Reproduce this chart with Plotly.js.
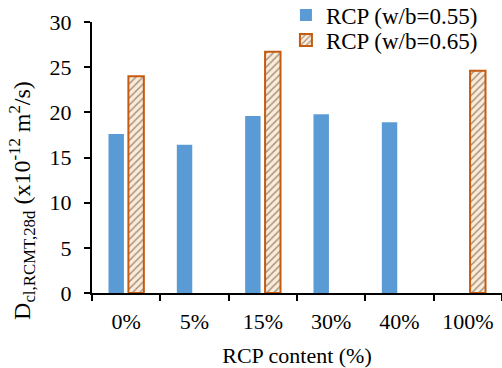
<!DOCTYPE html>
<html>
<head>
<meta charset="utf-8">
<script src="https://cdn.plot.ly/plotly-3.0.1.min.js"></script>
<style>html,body{margin:0;padding:0;background:#fff;}</style>
</head>
<body>
<div id="chart" style="width:502px;height:368px"></div>
<script>
var categories = ["0%", "5%", "15%", "30%", "40%", "100%"];
var seriesNames = ["RCP (w/b=0.55)", "RCP (w/b=0.65)"];
var valuesWB055 = [17.6, 16.4, 19.6, 19.8, 18.9, null];
var valuesWB065 = [24.0, null, 26.7, null, null, 24.6];
var yTicks = [0, 5, 10, 15, 20, 25, 30];

function mkFont(sz) { return {family: "Liberation Serif", size: sz || 22, color: "#000000"}; }

var traces = [
  {
    type: "bar", name: seriesNames[0], x: categories, y: valuesWB055,
    marker: {color: "#5b9bd5", line: {width: 0}},
    legend: "legend"
  },
  {
    type: "bar", name: seriesNames[1], x: categories, y: valuesWB065,
    marker: {
      color: "#fbe4c8",
      line: {color: "#c55a11", width: 2},
      pattern: {shape: "/", bgcolor: "#fcebd8", fgcolor: "#a89684", size: 5, solidity: 0.3, fillmode: "replace"}
    },
    legend: "legend2"
  }
];

var layout = {
  width: 502, height: 368,
  margin: {l: 92, r: 0, t: 22, b: 75, autoexpand: false},
  paper_bgcolor: "#fff", plot_bgcolor: "#fff",
  font: mkFont(22),
  barmode: "group",
  bargap: 0.417,
  bargroupgap: 0.225,
  showlegend: true,
  legend: {x: 0.473, y: (293 - 15) / 271, xanchor: "left", yanchor: "middle", bgcolor: "rgba(0,0,0,0)", font: mkFont(23)},
  legend2: {x: 0.473, y: (293 - 40) / 271, xanchor: "left", yanchor: "middle", bgcolor: "rgba(0,0,0,0)", font: mkFont(23)},
  xaxis: {
    type: "category",
    showline: true, linecolor: "#000", linewidth: 2,
    ticks: "outside", ticklen: 6, tickwidth: 2, tickcolor: "#000",
    tickson: "boundaries",
    showgrid: false, zeroline: false,
    tickfont: mkFont(22),
    ticklabelstandoff: 8,
    title: {text: "RCP content (%)", font: mkFont(22), standoff: 14}
  },
  yaxis: {
    range: [0, 30], tickvals: yTicks,
    showline: true, linecolor: "#000", linewidth: 2,
    ticks: "outside", ticklen: 6, tickwidth: 2, tickcolor: "#000",
    showgrid: false, zeroline: false,
    tickfont: mkFont(22),
    ticklabelstandoff: 8
  },
  annotations: [{
    text: "D<sub>cl,RCMT,28d</sub> (x10<sup>-12</sup> m<sup>2</sup>/s)",
    xref: "paper", yref: "paper", x: -0.171, y: 0.343,
    xanchor: "center", yanchor: "middle",
    textangle: -90, showarrow: false, font: mkFont(24)
  }]
};

Plotly.newPlot("chart", traces, layout, {displayModeBar: false, staticPlot: true});
</script>
</body>
</html>
